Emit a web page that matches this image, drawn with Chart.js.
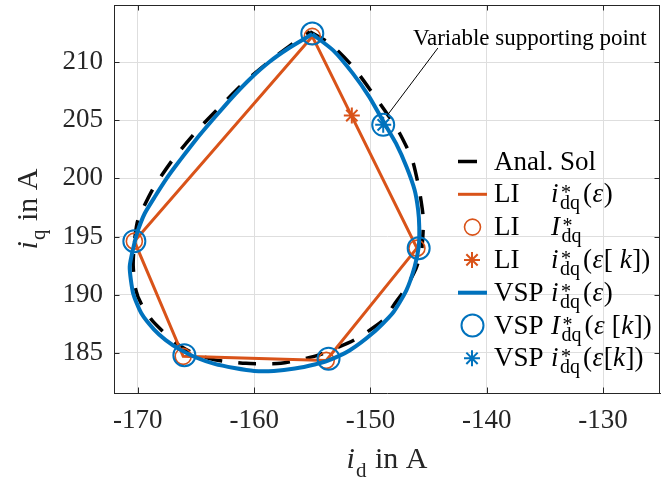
<!DOCTYPE html>
<html>
<head>
<meta charset="utf-8">
<script src="https://cdn.jsdelivr.net/npm/chart.js@4.4.0/dist/chart.umd.min.js"></script>
<style>
  html, body { margin: 0; padding: 0; background: #fff; }
</style>
</head>
<body>
<canvas id="myChart" width="670" height="485"></canvas>
<script>
// tick values
const xTicks = [-170, -160, -150, -140, -130];
const yTicks = [185, 190, 195, 200, 205, 210];

// analytic solution (black dashed), clockwise from the top
const analX = [-155.2, -153.5, -151.5, -149.8, -148.6, -147.5, -146.4, -145.8, -145.45, -145.6, -146.1, -147.0, -148.0, -148.9,
  -151.4, -154.5, -157.7, -160.7, -163.4, -165.3, -166.8, -168.7, -169.7, -170.2, -170.4, -170.3, -170.0, -168.7,
  -167.0, -165.0, -163.0, -160.8, -158.4, -156.8, -155.2];
const analY = [212.6, 211.6, 209.6, 207.3, 205.6, 203.9, 201.6, 199.0, 196.5, 193.8, 192.2, 190.5, 189.1, 187.8,
  186.1, 184.8, 184.1, 184.1, 184.4, 185.0, 185.9, 187.7, 189.2, 190.5, 192.5, 194.5, 196.4, 199.1,
  201.6, 204.0, 206.1, 208.3, 210.3, 211.5, 212.6];

// LI: linear interpolation polygon
const liLineX = [-155.0, -146.0, -153.8, -166.1, -170.3, -155.0];
const liLineY = [212.2, 194.0, 184.35, 184.7, 194.6, 212.2];
const liNodeX = [-155.0, -146.0, -153.8, -166.1, -170.3];
const liNodeY = [212.2, 194.0, 184.35, 184.7, 194.6];
const liStarX = [-151.6];
const liStarY = [205.4];

// VSP: curve with variable supporting point
const vspCurveX = [-155.0, -153.2, -151.5, -150.1, -148.9, -147.8, -146.9, -146.2, -145.9, -145.8, -145.85, -146.2, -146.9,
  -148.1, -149.8, -151.8, -153.6, -154.8, -156.5, -158.3, -160.0, -161.7, -163.4, -165.0, -166.4, -167.6, -168.6,
  -169.7, -170.4, -170.7, -170.3, -170.0, -169.4, -168.55, -167.45, -166.8, -165.8, -164.7, -163.25, -161.8, -160.4,
  -158.7, -157.0, -155.0];
const vspCurveY = [212.4, 211.0, 209.0, 207.0, 204.9, 203.0, 201.0, 199.0, 197.3, 195.8, 194.1, 192.4, 190.4,
  188.4, 186.7, 185.2, 184.35, 184.0, 183.65, 183.45, 183.45, 183.7, 184.05, 184.6, 185.3, 186.1, 187.0,
  188.4, 190.1, 192.4, 194.4, 195.5, 197.0, 198.4, 200.1, 201.0, 202.3, 203.7, 205.4, 207.05, 208.5,
  210.0, 211.2, 212.4];
const vspNodeX = [-155.0, -148.9, -145.85, -153.6, -166.0, -170.3];
const vspNodeY = [212.45, 204.6, 194.0, 184.5, 184.8, 194.6];
const vspStarX = [-148.9];
const vspStarY = [204.6];

// annotation pointer
const noteText = 'Variable supporting point';
const noteLineX = [-144.2, -148.6];
const noteLineY = [211.2, 205.35];
const noteTextX = -146.35;
const noteTextY = 211.5;

const ORANGE = '#D95319';
const BLUE = '#0072BD';
const AXIS = '#262626';
const SERIF = "'Liberation Serif', 'DejaVu Serif', serif";

function pts(xs, ys) {
    return xs.map((x, i) => ({ x: x, y: ys[i] }));
}

// legend rows: icon + label + math part
const I = t => ({ t: t, it: true });
const R = t => ({ t: t, it: false });
const STACK = { stack: true };
const legendRows = [
    { icon: 'dash', color: '#000', label: 'Anal. Sol', math: [] },
    { icon: 'line', color: ORANGE, label: 'LI', math: [I('i'), STACK, R('('), I('ε'), R(')')] },
    { icon: 'circle', color: ORANGE, label: 'LI', math: [I('I'), STACK] },
    { icon: 'star', color: ORANGE, label: 'LI', math: [I('i'), STACK, R('('), I('ε'), R('[ '), I('k'), R('])')] },
    { icon: 'line', color: BLUE, label: 'VSP', math: [I('i'), STACK, R('('), I('ε'), R(')')] },
    { icon: 'circle', color: BLUE, label: 'VSP', math: [I('I'), STACK, R('('), I('ε'), R(' ['), I('k'), R('])')] },
    { icon: 'star', color: BLUE, label: 'VSP', math: [I('i'), STACK, R('('), I('ε'), R('['), I('k'), R('])')] }
];

function drawMath(ctx, runs, x, y, size) {
    runs.forEach(r => {
        if (r.stack) {
            ctx.font = '20px ' + SERIF;
            ctx.fillText('*', x + 2, y - 3);
            ctx.fillText('dq', x + 1, y + 7);
            x += ctx.measureText('dq').width + 4;
            return;
        }
        ctx.font = (r.it ? 'italic ' : '') + size + 'px ' + SERIF;
        ctx.fillText(r.t, x, y);
        x += ctx.measureText(r.t).width + 0.5;
    });
    return x;
}

function drawStar(ctx, cx, cy, r) {
    ctx.beginPath();
    for (let k = 0; k < 4; k++) {
        const a = k * Math.PI / 4;
        ctx.moveTo(cx - r * Math.cos(a), cy - r * Math.sin(a));
        ctx.lineTo(cx + r * Math.cos(a), cy + r * Math.sin(a));
    }
    ctx.stroke();
}

function dropPadding(scale) {
    scale.paddingTop = 0;
    scale.paddingBottom = 0;
    scale.paddingLeft = 0;
    scale.paddingRight = 0;
}

const framePlugin = {
    id: 'frame',
    beforeDraw(chart) {
        const ctx = chart.ctx;
        ctx.save();
        ctx.fillStyle = '#fff';
        ctx.fillRect(0, 0, chart.width, chart.height);
        ctx.restore();
    },
    beforeDatasetsDraw(chart) {
        const ctx = chart.ctx;
        const a = chart.chartArea;
        const xs = chart.scales.x, ys = chart.scales.y;
        const tl = 5.5;
        ctx.save();
        ctx.strokeStyle = AXIS;
        ctx.lineWidth = 1;
        ctx.beginPath();
        xTicks.forEach(v => {
            const px = Math.round(xs.getPixelForValue(v)) + 0.5;
            ctx.moveTo(px, a.bottom); ctx.lineTo(px, a.bottom - tl);
            ctx.moveTo(px, a.top); ctx.lineTo(px, a.top + tl);
        });
        yTicks.forEach(v => {
            const py = Math.round(ys.getPixelForValue(v)) + 0.5;
            ctx.moveTo(a.left, py); ctx.lineTo(a.left + tl, py);
            ctx.moveTo(a.right, py); ctx.lineTo(a.right - tl, py);
        });
        ctx.stroke();
        ctx.beginPath();
        ctx.moveTo(a.left, a.top + 0.5); ctx.lineTo(a.right, a.top + 0.5);
        ctx.moveTo(a.right - 0.5, a.top); ctx.lineTo(a.right - 0.5, a.bottom);
        ctx.stroke();
        ctx.restore();
    },
    afterDraw(chart) {
        const ctx = chart.ctx;
        const a = chart.chartArea;
        const xs = chart.scales.x, ys = chart.scales.y;
        ctx.save();
        ctx.fillStyle = '#000';
        ctx.textBaseline = 'alphabetic';
        ctx.textAlign = 'left';

        // annotation text
        ctx.font = '23px ' + SERIF;
        ctx.fillText(noteText, xs.getPixelForValue(noteTextX), ys.getPixelForValue(noteTextY));

        // legend
        const lx = a.right - 202;
        const size = 27;
        legendRows.forEach((row, i) => {
            const cy = 161.5 + i * 32.8;
            ctx.strokeStyle = row.color;
            if (row.icon === 'dash') {
                ctx.lineWidth = 3.5;
                ctx.beginPath(); ctx.moveTo(lx, cy); ctx.lineTo(lx + 19, cy); ctx.stroke();
            } else if (row.icon === 'line') {
                ctx.lineWidth = row.color === BLUE ? 4 : 3;
                ctx.beginPath(); ctx.moveTo(lx, cy); ctx.lineTo(lx + 29, cy); ctx.stroke();
            } else if (row.icon === 'circle') {
                ctx.lineWidth = row.color === BLUE ? 2 : 1.6;
                ctx.beginPath(); ctx.arc(lx + 14.5, cy, row.color === BLUE ? 11 : 8, 0, Math.PI * 2); ctx.stroke();
            } else {
                ctx.lineWidth = 2;
                drawStar(ctx, lx + 14, cy, 8);
            }
            ctx.fillStyle = '#000';
            ctx.font = size + 'px ' + SERIF;
            ctx.fillText(row.label, lx + 36, cy + 8);
            drawMath(ctx, row.math, lx + 93, cy + 8, size);
        });

        // x axis title: i_d in A
        ctx.fillStyle = AXIS;
        const ts = 30;
        const ss = 21;
        const cx = (a.left + a.right) / 2;
        ctx.font = 'italic ' + ts + 'px ' + SERIF;
        const wi = ctx.measureText('i').width;
        ctx.font = ss + 'px ' + SERIF;
        const wd = ctx.measureText('d').width;
        ctx.font = ts + 'px ' + SERIF;
        const wr = ctx.measureText(' in A').width;
        let x0 = cx - (wi + wd + 2 + wr) / 2;
        const by = 468;
        ctx.font = 'italic ' + ts + 'px ' + SERIF;
        ctx.fillText('i', x0, by);
        ctx.font = ss + 'px ' + SERIF;
        ctx.fillText('d', x0 + wi + 1, by + 9);
        ctx.font = ts + 'px ' + SERIF;
        ctx.fillText(' in A', x0 + wi + wd + 2, by);

        // y axis title: i_q in A
        ctx.translate(37, 209);
        ctx.rotate(-Math.PI / 2);
        ctx.font = 'italic ' + ts + 'px ' + SERIF;
        const wiq = ctx.measureText('i').width;
        ctx.font = ss + 'px ' + SERIF;
        const wq = ctx.measureText('q').width;
        ctx.font = ts + 'px ' + SERIF;
        const wr2 = ctx.measureText(' in A').width;
        x0 = -(wiq + wq + 2 + wr2) / 2;
        ctx.font = 'italic ' + ts + 'px ' + SERIF;
        ctx.fillText('i', x0, 0);
        ctx.font = ss + 'px ' + SERIF;
        ctx.fillText('q', x0 + wiq + 1, 8);
        ctx.font = ts + 'px ' + SERIF;
        ctx.fillText(' in A', x0 + wiq + wq + 2, 0);
        ctx.restore();
    }
};

const ctx = document.getElementById('myChart').getContext('2d');
const myChart = new Chart(ctx, {
    type: 'line',
    data: {
        datasets: [
            {
                label: 'pointer',
                data: pts(noteLineX, noteLineY),
                borderColor: '#000',
                borderWidth: 1,
                pointRadius: 0,
                order: 0
            },
            {
                label: 'VSP i*dq(eps[k])',
                data: pts(vspStarX, vspStarY),
                showLine: false,
                pointStyle: 'star',
                pointRadius: 8,
                borderColor: BLUE,
                backgroundColor: 'transparent',
                pointBorderWidth: 2,
                order: 1
            },
            {
                label: 'VSP I*dq(eps[k])',
                data: pts(vspNodeX, vspNodeY),
                showLine: false,
                pointStyle: 'circle',
                pointRadius: 11,
                borderColor: BLUE,
                backgroundColor: 'transparent',
                pointBorderWidth: 2,
                order: 2
            },
            {
                label: 'VSP i*dq(eps)',
                data: pts(vspCurveX, vspCurveY),
                borderColor: BLUE,
                borderWidth: 4,
                pointRadius: 0,
                tension: 0.2,
                order: 3
            },
            {
                label: 'LI i*dq(eps[k])',
                data: pts(liStarX, liStarY),
                showLine: false,
                pointStyle: 'star',
                pointRadius: 8,
                borderColor: ORANGE,
                backgroundColor: 'transparent',
                pointBorderWidth: 2,
                order: 4
            },
            {
                label: 'LI I*dq',
                data: pts(liNodeX, liNodeY),
                showLine: false,
                pointStyle: 'circle',
                pointRadius: 8,
                borderColor: ORANGE,
                backgroundColor: 'transparent',
                pointBorderWidth: 1.6,
                order: 5
            },
            {
                label: 'LI i*dq(eps)',
                data: pts(liLineX, liLineY),
                borderColor: ORANGE,
                borderWidth: 3,
                pointRadius: 0,
                tension: 0,
                order: 6
            },
            {
                label: 'Anal. Sol',
                data: pts(analX, analY),
                borderColor: '#000',
                borderWidth: 3.5,
                borderDash: [18, 16],
                pointRadius: 0,
                tension: 0.2,
                order: 7
            }
        ]
    },
    options: {
        responsive: false,
        animation: false,
        events: [],
        layout: { autoPadding: false, padding: { left: 0, top: 5, right: 10, bottom: 0 } },
        plugins: {
            legend: { display: false },
            tooltip: { enabled: false },
            title: { display: false }
        },
        scales: {
            x: {
                type: 'linear',
                min: -172.05,
                max: -125.1,
                afterBuildTicks: scale => { scale.ticks = xTicks.map(v => ({ value: v })); },
                afterFit: scale => { scale.height = 92; dropPadding(scale); },
                grid: { color: '#dedede', drawTicks: false },
                border: { color: AXIS, width: 1 },
                ticks: {
                    padding: 12,
                    color: AXIS,
                    font: { family: SERIF, size: 27 },
                    callback: v => String(v)
                }
            },
            y: {
                type: 'linear',
                min: 181.55,
                max: 214.9,
                afterBuildTicks: scale => { scale.ticks = yTicks.map(v => ({ value: v })); },
                afterFit: scale => { scale.width = 114; dropPadding(scale); },
                grid: { color: '#dedede', drawTicks: false },
                border: { color: AXIS, width: 1 },
                ticks: {
                    padding: 11,
                    color: AXIS,
                    font: { family: SERIF, size: 27 },
                    callback: v => String(v)
                }
            }
        }
    },
    plugins: [framePlugin]
});
</script>
</body>
</html>
